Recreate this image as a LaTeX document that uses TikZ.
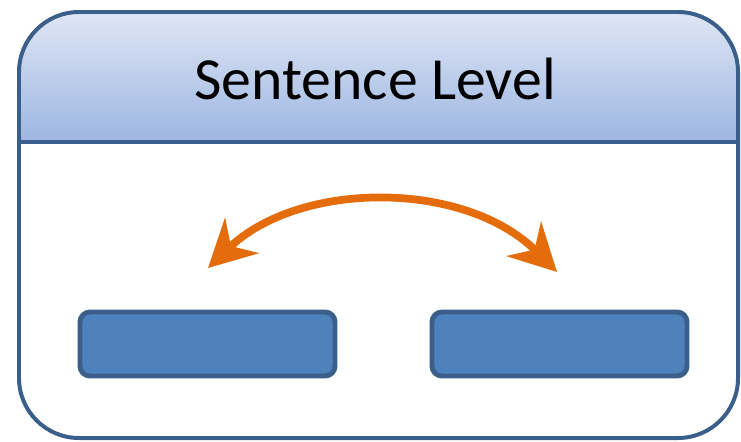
\documentclass[tikz,border=0pt]{standalone}
\usepackage{fontspec}
\setmainfont{Carlito}
\usetikzlibrary{arrows.meta}
\definecolor{frameblue}{HTML}{3A5F8B}
\definecolor{boxblue}{HTML}{4F81BD}
\definecolor{headtop}{HTML}{DFE6F4}
\definecolor{headbot}{HTML}{9DB6E2}
\definecolor{linkorange}{HTML}{E46C0A}
\tikzset{
  wordbox/.style={draw=frameblue, fill=boxblue, line width=4.2pt, rounded corners=0.3cm,
    minimum width=7.65cm, minimum height=1.92cm, inner sep=0pt},
  linkarrow/.style={draw=linkorange, line width=6.6pt,
    {Stealth[length=1.4cm, width=1.45cm, inset=0.45cm]}-{Stealth[length=1.4cm, width=1.45cm, inset=0.45cm]}}
}

\begin{document}
\begin{tikzpicture}[x=0.03cm, y=-0.03cm]
			%%%%% FRAME %%%%%
			\useasboundingbox (0, 0) rectangle (741, 441);
			
			\begin{scope}
				\clip[rounded corners=1.8cm] (19, 12) rectangle (738, 438);
				\shade[top color=headtop, bottom color=headbot] (19, 12) rectangle (738, 142);
			\end{scope}
			\draw[line width=3.4pt, color=frameblue] (19, 142) -- (738, 142);
			\draw[line width=3.4pt, color=frameblue, rounded corners=1.8cm] (19, 12) rectangle (738, 438);
			
			\node[anchor=base, font=\fontsize{51}{60}\selectfont] (title) at (375, 99) {Sentence Level};
			
			%%%%% BOXES %%%%%
			\node[wordbox] (leftword) at (207.5, 344) {};
			\node[wordbox] (rightword) at (559.5, 344) {};
			
			%%%%% ARROW %%%%%
			\coordinate (lefttip) at (208, 268);
			\coordinate (righttip) at (557, 272);
			\draw[linkarrow] (lefttip) .. controls (300, 180) and (465, 180) .. (righttip);
		\end{tikzpicture}
\end{document}
